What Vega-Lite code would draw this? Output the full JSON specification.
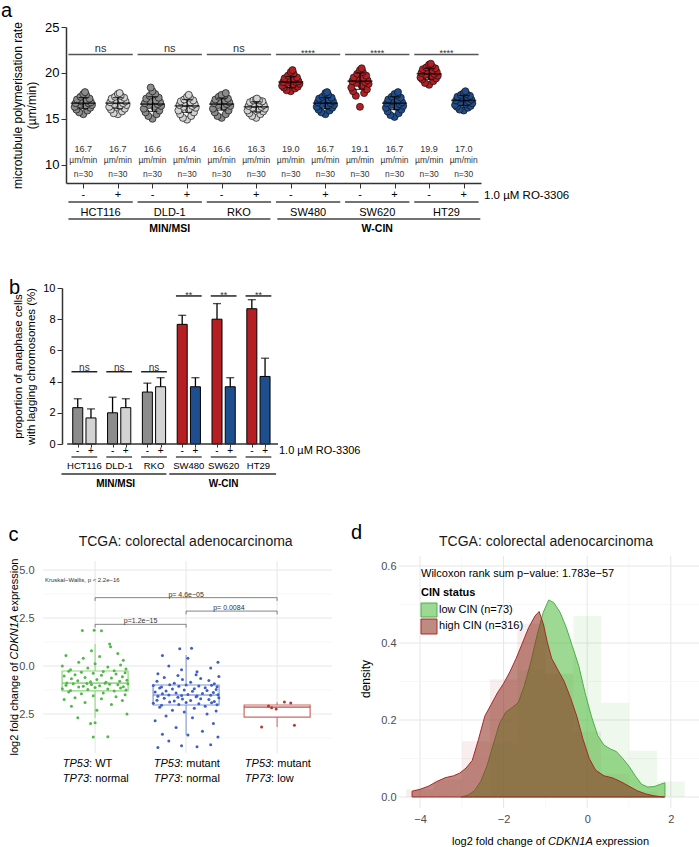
{
"$schema":"https://vega.github.io/schema/vega-lite/v6.json",
"padding":{"left":1,"top":1,"right":0,"bottom":0},
"bounds":"flush",
"spacing":105,
"config":{"font":"Liberation Sans","view":{"stroke":null},"axis":{"grid":false,"labelFlush":false,"labelOverlap":false}},
"datasets":{
"ap":[
{"i":1,"x":1,"y":15.5},{"i":1,"x":0.88,"y":15.7},{"i":1,"x":1.12,"y":15.9},{"i":1,"x":0.8,"y":16.0},{"i":1,"x":1.2,"y":16.2},{"i":1,"x":0.75,"y":16.3},{"i":1,"x":1.05,"y":16.4},{"i":1,"x":1.25,"y":16.5},{"i":1,"x":0.9,"y":16.6},{"i":1,"x":1.15,"y":16.7},{"i":1,"x":0.78,"y":16.7},{"i":1,"x":1.22,"y":16.8},{"i":1,"x":0.95,"y":16.9},{"i":1,"x":1.1,"y":17.0},{"i":1,"x":0.82,"y":17.1},{"i":1,"x":1.18,"y":17.2},{"i":1,"x":0.92,"y":17.4},{"i":1,"x":1.08,"y":17.6},{"i":1,"x":1,"y":17.7},{"i":1,"x":1.05,"y":17.9},
{"i":2,"x":2,"y":15.5},{"i":2,"x":1.88,"y":15.6},{"i":2,"x":2.12,"y":15.8},{"i":2,"x":1.8,"y":16.0},{"i":2,"x":2.2,"y":16.1},{"i":2,"x":1.75,"y":16.3},{"i":2,"x":2.05,"y":16.4},{"i":2,"x":2.25,"y":16.5},{"i":2,"x":1.9,"y":16.6},{"i":2,"x":2.15,"y":16.7},{"i":2,"x":1.78,"y":16.8},{"i":2,"x":2.22,"y":16.9},{"i":2,"x":1.95,"y":17.0},{"i":2,"x":2.1,"y":17.1},{"i":2,"x":1.82,"y":17.2},{"i":2,"x":2.18,"y":17.3},{"i":2,"x":1.92,"y":17.4},{"i":2,"x":2.08,"y":17.5},{"i":2,"x":2,"y":17.7},{"i":2,"x":2.05,"y":17.8},
{"i":3,"x":3,"y":15.0},{"i":3,"x":2.88,"y":15.3},{"i":3,"x":3.12,"y":15.5},{"i":3,"x":2.8,"y":15.7},{"i":3,"x":3.2,"y":15.9},{"i":3,"x":2.75,"y":16.1},{"i":3,"x":3.05,"y":16.3},{"i":3,"x":3.25,"y":16.4},{"i":3,"x":2.9,"y":16.5},{"i":3,"x":3.15,"y":16.6},{"i":3,"x":2.78,"y":16.7},{"i":3,"x":3.22,"y":16.8},{"i":3,"x":2.95,"y":16.9},{"i":3,"x":3.1,"y":17.0},{"i":3,"x":2.82,"y":17.2},{"i":3,"x":3.18,"y":17.3},{"i":3,"x":2.92,"y":17.5},{"i":3,"x":3.08,"y":17.7},{"i":3,"x":3,"y":18.0},{"i":3,"x":2.95,"y":18.4},
{"i":4,"x":4,"y":14.9},{"i":4,"x":3.88,"y":15.1},{"i":4,"x":4.12,"y":15.3},{"i":4,"x":3.8,"y":15.5},{"i":4,"x":4.2,"y":15.7},{"i":4,"x":3.75,"y":15.9},{"i":4,"x":4.05,"y":16.0},{"i":4,"x":4.25,"y":16.2},{"i":4,"x":3.9,"y":16.3},{"i":4,"x":4.15,"y":16.4},{"i":4,"x":3.78,"y":16.5},{"i":4,"x":4.22,"y":16.6},{"i":4,"x":3.95,"y":16.7},{"i":4,"x":4.1,"y":16.8},{"i":4,"x":3.82,"y":16.9},{"i":4,"x":4.18,"y":17.0},{"i":4,"x":3.92,"y":17.1},{"i":4,"x":4.08,"y":17.3},{"i":4,"x":4,"y":17.4},{"i":4,"x":4.05,"y":17.6},
{"i":5,"x":5,"y":15.1},{"i":5,"x":4.88,"y":15.3},{"i":5,"x":5.12,"y":15.5},{"i":5,"x":4.8,"y":15.7},{"i":5,"x":5.2,"y":15.9},{"i":5,"x":4.75,"y":16.1},{"i":5,"x":5.05,"y":16.3},{"i":5,"x":5.25,"y":16.4},{"i":5,"x":4.9,"y":16.5},{"i":5,"x":5.15,"y":16.6},{"i":5,"x":4.78,"y":16.7},{"i":5,"x":5.22,"y":16.8},{"i":5,"x":4.95,"y":16.9},{"i":5,"x":5.1,"y":17.0},{"i":5,"x":4.82,"y":17.1},{"i":5,"x":5.18,"y":17.2},{"i":5,"x":4.92,"y":17.4},{"i":5,"x":5.08,"y":17.5},{"i":5,"x":5,"y":17.6},{"i":5,"x":5.12,"y":17.8},
{"i":6,"x":6,"y":15.1},{"i":6,"x":5.88,"y":15.3},{"i":6,"x":6.12,"y":15.5},{"i":6,"x":5.8,"y":15.6},{"i":6,"x":6.2,"y":15.8},{"i":6,"x":5.75,"y":15.9},{"i":6,"x":6.05,"y":16.0},{"i":6,"x":6.25,"y":16.1},{"i":6,"x":5.9,"y":16.2},{"i":6,"x":6.15,"y":16.3},{"i":6,"x":5.78,"y":16.4},{"i":6,"x":6.22,"y":16.5},{"i":6,"x":5.95,"y":16.6},{"i":6,"x":6.1,"y":16.7},{"i":6,"x":5.82,"y":16.8},{"i":6,"x":6.18,"y":16.9},{"i":6,"x":5.92,"y":17.0},{"i":6,"x":6.08,"y":17.0},{"i":6,"x":6,"y":17.1},{"i":6,"x":6.02,"y":17.2},
{"i":7,"x":7,"y":18.0},{"i":7,"x":6.88,"y":18.1},{"i":7,"x":7.12,"y":18.3},{"i":7,"x":6.8,"y":18.4},{"i":7,"x":7.2,"y":18.5},{"i":7,"x":6.75,"y":18.6},{"i":7,"x":7.05,"y":18.7},{"i":7,"x":7.25,"y":18.8},{"i":7,"x":6.9,"y":18.9},{"i":7,"x":7.15,"y":19.0},{"i":7,"x":6.78,"y":19.0},{"i":7,"x":7.22,"y":19.1},{"i":7,"x":6.95,"y":19.2},{"i":7,"x":7.1,"y":19.3},{"i":7,"x":6.82,"y":19.4},{"i":7,"x":7.18,"y":19.5},{"i":7,"x":6.92,"y":19.7},{"i":7,"x":7.08,"y":19.9},{"i":7,"x":7,"y":20.1},{"i":7,"x":7.05,"y":20.3},
{"i":8,"x":8,"y":15.5},{"i":8,"x":7.88,"y":15.7},{"i":8,"x":8.12,"y":15.9},{"i":8,"x":7.8,"y":16.0},{"i":8,"x":8.2,"y":16.2},{"i":8,"x":7.75,"y":16.3},{"i":8,"x":8.05,"y":16.4},{"i":8,"x":8.25,"y":16.5},{"i":8,"x":7.9,"y":16.6},{"i":8,"x":8.15,"y":16.7},{"i":8,"x":7.78,"y":16.8},{"i":8,"x":8.22,"y":16.9},{"i":8,"x":7.95,"y":17.0},{"i":8,"x":8.1,"y":17.1},{"i":8,"x":7.82,"y":17.2},{"i":8,"x":8.18,"y":17.3},{"i":8,"x":7.92,"y":17.4},{"i":8,"x":8.08,"y":17.6},{"i":8,"x":8,"y":17.8},{"i":8,"x":8.05,"y":17.9},
{"i":9,"x":9,"y":16.3},{"i":9,"x":8.88,"y":17.5},{"i":9,"x":9.12,"y":17.8},{"i":9,"x":8.8,"y":18.0},{"i":9,"x":9.2,"y":18.2},{"i":9,"x":8.75,"y":18.4},{"i":9,"x":9.05,"y":18.6},{"i":9,"x":9.25,"y":18.8},{"i":9,"x":8.9,"y":18.9},{"i":9,"x":9.15,"y":19.0},{"i":9,"x":8.78,"y":19.1},{"i":9,"x":9.22,"y":19.2},{"i":9,"x":8.95,"y":19.3},{"i":9,"x":9.1,"y":19.4},{"i":9,"x":8.82,"y":19.5},{"i":9,"x":9.18,"y":19.7},{"i":9,"x":8.92,"y":19.9},{"i":9,"x":9.08,"y":20.1},{"i":9,"x":9,"y":20.3},{"i":9,"x":9.05,"y":20.5},
{"i":10,"x":10,"y":15.2},{"i":10,"x":9.88,"y":15.4},{"i":10,"x":10.12,"y":15.6},{"i":10,"x":9.8,"y":15.8},{"i":10,"x":10.2,"y":16.0},{"i":10,"x":9.75,"y":16.2},{"i":10,"x":10.05,"y":16.3},{"i":10,"x":10.25,"y":16.4},{"i":10,"x":9.9,"y":16.5},{"i":10,"x":10.15,"y":16.6},{"i":10,"x":9.78,"y":16.7},{"i":10,"x":10.22,"y":16.8},{"i":10,"x":9.95,"y":16.9},{"i":10,"x":10.1,"y":17.0},{"i":10,"x":9.82,"y":17.1},{"i":10,"x":10.18,"y":17.3},{"i":10,"x":9.92,"y":17.4},{"i":10,"x":10.08,"y":17.6},{"i":10,"x":10,"y":17.7},{"i":10,"x":10.1,"y":17.9},
{"i":11,"x":11,"y":18.7},{"i":11,"x":10.88,"y":18.9},{"i":11,"x":11.12,"y":19.1},{"i":11,"x":10.8,"y":19.3},{"i":11,"x":11.2,"y":19.4},{"i":11,"x":10.75,"y":19.5},{"i":11,"x":11.05,"y":19.6},{"i":11,"x":11.25,"y":19.7},{"i":11,"x":10.9,"y":19.8},{"i":11,"x":11.15,"y":19.9},{"i":11,"x":10.78,"y":20.0},{"i":11,"x":11.22,"y":20.1},{"i":11,"x":10.95,"y":20.2},{"i":11,"x":11.1,"y":20.3},{"i":11,"x":10.82,"y":20.4},{"i":11,"x":11.18,"y":20.5},{"i":11,"x":10.92,"y":20.6},{"i":11,"x":11.08,"y":20.7},{"i":11,"x":11,"y":20.9},{"i":11,"x":11.05,"y":21.0},
{"i":12,"x":12,"y":15.9},{"i":12,"x":11.88,"y":16.0},{"i":12,"x":12.12,"y":16.2},{"i":12,"x":11.8,"y":16.3},{"i":12,"x":12.2,"y":16.4},{"i":12,"x":11.75,"y":16.5},{"i":12,"x":12.05,"y":16.6},{"i":12,"x":12.25,"y":16.7},{"i":12,"x":11.9,"y":16.8},{"i":12,"x":12.15,"y":16.9},{"i":12,"x":11.78,"y":17.0},{"i":12,"x":12.22,"y":17.1},{"i":12,"x":11.95,"y":17.2},{"i":12,"x":12.1,"y":17.3},{"i":12,"x":11.82,"y":17.4},{"i":12,"x":12.18,"y":17.5},{"i":12,"x":11.92,"y":17.6},{"i":12,"x":12.08,"y":17.7},{"i":12,"x":12,"y":17.8},{"i":12,"x":12.05,"y":18.0}
],
"am":[
{"i":1,"m":16.7,"lo":16.1,"hi":17.3,"l":"16.7","sg":"-"},{"i":2,"m":16.7,"lo":16.1,"hi":17.3,"l":"16.7","sg":"+"},{"i":3,"m":16.6,"lo":15.8,"hi":17.4,"l":"16.6","sg":"-"},{"i":4,"m":16.4,"lo":15.7,"hi":17.1,"l":"16.4","sg":"+"},{"i":5,"m":16.6,"lo":15.95,"hi":17.25,"l":"16.6","sg":"-"},{"i":6,"m":16.3,"lo":15.75,"hi":16.85,"l":"16.3","sg":"+"},{"i":7,"m":19.0,"lo":18.4,"hi":19.6,"l":"19.0","sg":"-"},{"i":8,"m":16.7,"lo":16.1,"hi":17.3,"l":"16.7","sg":"+"},{"i":9,"m":19.1,"lo":18.2,"hi":20.0,"l":"19.1","sg":"-"},{"i":10,"m":16.7,"lo":16.0,"hi":17.4,"l":"16.7","sg":"+"},{"i":11,"m":19.9,"lo":19.3,"hi":20.5,"l":"19.9","sg":"-"},{"i":12,"m":17.0,"lo":16.45,"hi":17.55,"l":"17.0","sg":"+"}
],
"ac":[
{"c":1.5,"a":0.57,"b":2.43,"n":"HCT116","s":"ns"},{"c":3.5,"a":2.57,"b":4.43,"n":"DLD-1","s":"ns"},{"c":5.5,"a":4.57,"b":6.43,"n":"RKO","s":"ns"},{"c":7.5,"a":6.57,"b":8.43,"n":"SW480","s":"****"},{"c":9.5,"a":8.57,"b":10.43,"n":"SW620","s":"****"},{"c":11.5,"a":10.57,"b":12.43,"n":"HT29","s":"****"}
],
"ag":[{"c":3.5,"a":0.57,"b":6.41,"n":"MIN/MSI"},{"c":9.5,"a":6.61,"b":12.48,"n":"W-CIN"}],
"bb":[
{"x":-0.19,"v":2.33,"e":2.9,"i":1,"sg":"-"},{"x":0.19,"v":1.67,"e":2.25,"i":2,"sg":"+"},{"x":0.81,"v":2.0,"e":3.0,"i":3,"sg":"-"},{"x":1.19,"v":2.33,"e":2.9,"i":4,"sg":"+"},{"x":1.81,"v":3.33,"e":3.9,"i":5,"sg":"-"},{"x":2.19,"v":3.67,"e":4.25,"i":6,"sg":"+"},{"x":2.81,"v":7.67,"e":8.25,"i":7,"sg":"-"},{"x":3.19,"v":3.67,"e":4.25,"i":8,"sg":"+"},{"x":3.81,"v":8.0,"e":9.0,"i":9,"sg":"-"},{"x":4.19,"v":3.67,"e":4.25,"i":10,"sg":"+"},{"x":4.81,"v":8.67,"e":9.25,"i":11,"sg":"-"},{"x":5.19,"v":4.33,"e":5.5,"i":12,"sg":"+"}
],
"bc":[
{"c":0,"a":-0.37,"b":0.37,"n":"HCT116","s":"ns","h":4.63},{"c":1,"a":0.63,"b":1.37,"n":"DLD-1","s":"ns","h":4.63},{"c":2,"a":1.63,"b":2.37,"n":"RKO","s":"ns","h":4.63},{"c":3,"a":2.63,"b":3.37,"n":"SW480","s":"**","h":9.49},{"c":4,"a":3.63,"b":4.37,"n":"SW620","s":"**","h":9.49},{"c":5,"a":4.63,"b":5.37,"n":"HT29","s":"**","h":9.49}
],
"bg":[{"c":0.9,"a":-0.658,"b":2.356,"n":"MIN/MSI"},{"c":4,"a":2.438,"b":5.507,"n":"W-CIN"}],
"cx":[
{"g":1,"q1":-1.3,"q3":-0.26,"md":-0.89,"lo":-2.7,"hi":1.15},{"g":2,"q1":-2.03,"q3":-0.99,"md":-1.51,"lo":-3.6,"hi":0.57},{"g":3,"q1":-2.66,"q3":-2.03,"md":-2.14,"lo":-3.18,"hi":-1.88}
],
"cb":[
{"a":1,"b":2,"m":1.5,"h":2.17,"lo":2.0,"p":"p=1.2e−15"},{"a":2,"b":3,"m":2.47,"h":2.86,"lo":2.69,"p":"p= 0.0084"},{"a":1,"b":3,"m":2.0,"h":3.56,"lo":3.39,"p":"p= 4.6e−05"}
],
"cl":[{"g":1,"a":": WT","b":": normal"},{"g":2,"a":": mutant","b":": normal"},{"g":3,"a":": mutant","b":": low"}],
"cp":[
{"g":1,"x":0.98,"y":-3.7},{"g":1,"x":1.14,"y":-3.68},{"g":1,"x":0.95,"y":-3.0},{"g":1,"x":1.0,"y":-2.95},{"g":1,"x":0.81,"y":-2.7},{"g":1,"x":1.35,"y":-2.5},{"g":1,"x":1.02,"y":-2.3},{"g":1,"x":0.74,"y":-2.1},{"g":1,"x":1.18,"y":-2.0},{"g":1,"x":0.89,"y":-1.9},{"g":1,"x":1.3,"y":-1.8},{"g":1,"x":0.66,"y":-1.75},{"g":1,"x":1.07,"y":-1.7},{"g":1,"x":0.78,"y":-1.65},{"g":1,"x":1.23,"y":-1.6},{"g":1,"x":0.98,"y":-1.55},{"g":1,"x":1.33,"y":-1.5},{"g":1,"x":0.85,"y":-1.45},{"g":1,"x":1.09,"y":-1.4},{"g":1,"x":0.71,"y":-1.35},
{"g":1,"x":1.21,"y":-1.3},{"g":1,"x":0.73,"y":-1.28},{"g":1,"x":1.34,"y":-1.25},{"g":1,"x":0.92,"y":-1.22},{"g":1,"x":1.14,"y":-1.2},{"g":1,"x":0.64,"y":-1.18},{"g":1,"x":1.28,"y":-1.15},{"g":1,"x":1.0,"y":-1.12},{"g":1,"x":0.82,"y":-1.1},{"g":1,"x":1.31,"y":-1.08},{"g":1,"x":0.87,"y":-1.05},{"g":1,"x":1.05,"y":-1.03},{"g":1,"x":0.68,"y":-1.0},{"g":1,"x":1.25,"y":-0.98},{"g":1,"x":0.96,"y":-0.96},{"g":1,"x":1.16,"y":-0.95},{"g":1,"x":0.76,"y":-0.93},{"g":1,"x":1.36,"y":-0.92},{"g":1,"x":0.91,"y":-0.91},{"g":1,"x":1.11,"y":-0.9},
{"g":1,"x":0.69,"y":-0.88},{"g":1,"x":1.12,"y":-0.85},{"g":1,"x":0.95,"y":-0.82},{"g":1,"x":1.27,"y":-0.8},{"g":1,"x":0.81,"y":-0.77},{"g":1,"x":1.35,"y":-0.74},{"g":1,"x":1.02,"y":-0.7},{"g":1,"x":0.74,"y":-0.67},{"g":1,"x":1.18,"y":-0.63},{"g":1,"x":0.89,"y":-0.6},{"g":1,"x":1.3,"y":-0.56},{"g":1,"x":0.66,"y":-0.52},{"g":1,"x":1.07,"y":-0.48},{"g":1,"x":0.78,"y":-0.45},{"g":1,"x":1.23,"y":-0.42},{"g":1,"x":0.98,"y":-0.38},{"g":1,"x":1.33,"y":-0.35},{"g":1,"x":0.85,"y":-0.32},{"g":1,"x":1.09,"y":-0.29},{"g":1,"x":0.71,"y":-0.27},
{"g":1,"x":1.21,"y":-0.25},{"g":1,"x":0.73,"y":-0.2},{"g":1,"x":1.34,"y":-0.15},{"g":1,"x":0.92,"y":-0.1},{"g":1,"x":1.14,"y":-0.05},{"g":1,"x":0.64,"y":0.0},{"g":1,"x":1.28,"y":0.05},{"g":1,"x":1.0,"y":0.12},{"g":1,"x":0.82,"y":0.2},{"g":1,"x":1.31,"y":0.3},{"g":1,"x":0.87,"y":0.4},{"g":1,"x":1.05,"y":0.5},{"g":1,"x":0.68,"y":0.55},{"g":1,"x":1.25,"y":0.65},{"g":1,"x":0.96,"y":0.8},{"g":1,"x":1.17,"y":1.0},{"g":1,"x":1.16,"y":1.15},{"g":1,"x":0.86,"y":1.85},{"g":1,"x":0.99,"y":1.86},{"g":1,"x":1.07,"y":1.84},
{"g":2,"x":1.69,"y":-4.25},{"g":2,"x":2.12,"y":-4.2},{"g":2,"x":1.95,"y":-4.15},{"g":2,"x":2.27,"y":-4.1},{"g":2,"x":1.81,"y":-3.9},{"g":2,"x":2.35,"y":-3.7},{"g":2,"x":2.02,"y":-3.6},{"g":2,"x":1.74,"y":-3.55},{"g":2,"x":2.18,"y":-3.4},{"g":2,"x":1.89,"y":-3.2},{"g":2,"x":2.3,"y":-3.0},{"g":2,"x":1.66,"y":-2.85},{"g":2,"x":2.07,"y":-2.7},{"g":2,"x":1.78,"y":-2.6},{"g":2,"x":2.23,"y":-2.5},{"g":2,"x":1.98,"y":-2.4},{"g":2,"x":2.33,"y":-2.35},{"g":2,"x":1.85,"y":-2.3},{"g":2,"x":2.09,"y":-2.2},{"g":2,"x":1.71,"y":-2.15},{"g":2,"x":2.21,"y":-2.1},{"g":2,"x":1.73,"y":-2.05},
{"g":2,"x":2.34,"y":-2.02},{"g":2,"x":1.92,"y":-2.0},{"g":2,"x":2.14,"y":-1.97},{"g":2,"x":1.64,"y":-1.94},{"g":2,"x":2.28,"y":-1.92},{"g":2,"x":2.0,"y":-1.9},{"g":2,"x":1.82,"y":-1.87},{"g":2,"x":2.31,"y":-1.85},{"g":2,"x":1.87,"y":-1.82},{"g":2,"x":2.05,"y":-1.8},{"g":2,"x":1.68,"y":-1.78},{"g":2,"x":2.25,"y":-1.75},{"g":2,"x":1.96,"y":-1.72},{"g":2,"x":2.16,"y":-1.7},{"g":2,"x":1.76,"y":-1.68},{"g":2,"x":2.36,"y":-1.65},{"g":2,"x":1.91,"y":-1.63},{"g":2,"x":2.11,"y":-1.6},{"g":2,"x":1.69,"y":-1.58},{"g":2,"x":2.12,"y":-1.56},{"g":2,"x":1.95,"y":-1.54},{"g":2,"x":2.27,"y":-1.52},{"g":2,"x":1.81,"y":-1.51},
{"g":2,"x":2.35,"y":-1.5},{"g":2,"x":2.02,"y":-1.48},{"g":2,"x":1.74,"y":-1.45},{"g":2,"x":2.18,"y":-1.43},{"g":2,"x":1.89,"y":-1.4},{"g":2,"x":2.3,"y":-1.38},{"g":2,"x":1.66,"y":-1.35},{"g":2,"x":2.07,"y":-1.32},{"g":2,"x":1.78,"y":-1.3},{"g":2,"x":2.23,"y":-1.28},{"g":2,"x":1.98,"y":-1.25},{"g":2,"x":2.33,"y":-1.22},{"g":2,"x":1.85,"y":-1.2},{"g":2,"x":2.09,"y":-1.18},{"g":2,"x":1.71,"y":-1.15},{"g":2,"x":2.21,"y":-1.13},{"g":2,"x":1.73,"y":-1.1},{"g":2,"x":2.34,"y":-1.08},{"g":2,"x":1.92,"y":-1.06},{"g":2,"x":2.14,"y":-1.04},{"g":2,"x":1.64,"y":-1.02},{"g":2,"x":2.28,"y":-1.0},{"g":2,"x":2.0,"y":-0.99},
{"g":2,"x":1.82,"y":-0.97},{"g":2,"x":2.31,"y":-0.93},{"g":2,"x":1.87,"y":-0.9},{"g":2,"x":2.05,"y":-0.85},{"g":2,"x":1.68,"y":-0.8},{"g":2,"x":2.25,"y":-0.75},{"g":2,"x":1.96,"y":-0.7},{"g":2,"x":2.16,"y":-0.65},{"g":2,"x":1.76,"y":-0.6},{"g":2,"x":2.36,"y":-0.55},{"g":2,"x":1.91,"y":-0.5},{"g":2,"x":2.11,"y":-0.45},{"g":2,"x":1.69,"y":-0.4},{"g":2,"x":2.12,"y":-0.3},{"g":2,"x":1.95,"y":-0.2},{"g":2,"x":2.27,"y":-0.1},{"g":2,"x":1.81,"y":0.0},{"g":2,"x":2.35,"y":0.2},{"g":2,"x":2.02,"y":0.4},{"g":2,"x":1.74,"y":0.55},{"g":2,"x":1.93,"y":0.9},{"g":2,"x":2.06,"y":0.92},
{"g":3,"x":2.905,"y":-2.08},{"g":3,"x":2.94,"y":-2.17},{"g":3,"x":2.99,"y":-2.24},{"g":3,"x":3.08,"y":-1.88},{"g":3,"x":3.15,"y":-1.93},{"g":3,"x":2.83,"y":-3.18},{"g":3,"x":3.19,"y":-3.08}
],
"dh":[
{"s":"H","a":-4.33,"b":-3.67,"h":0.02},{"s":"H","a":-3.67,"b":-3.0,"h":0.045},{"s":"H","a":-3.0,"b":-2.33,"h":0.145},{"s":"H","a":-2.33,"b":-1.67,"h":0.305},{"s":"H","a":-1.67,"b":-1.0,"h":0.45},{"s":"H","a":-1.0,"b":-0.33,"h":0.32},{"s":"H","a":-0.33,"b":0.33,"h":0.17},{"s":"H","a":0.33,"b":1.0,"h":0.06},{"s":"H","a":1.0,"b":1.67,"h":0.015},
{"s":"L","a":-2.33,"b":-1.67,"h":0.14},{"s":"L","a":-1.67,"b":-1.0,"h":0.33},{"s":"L","a":-1.0,"b":-0.33,"h":0.32},{"s":"L","a":-0.33,"b":0.33,"h":0.47},{"s":"L","a":0.33,"b":1.0,"h":0.245},{"s":"L","a":1.0,"b":1.67,"h":0.12},{"s":"L","a":1.67,"b":2.33,"h":0.04}
],
"dd":[
{"s":"L","x":-3.02,"y":0.0},{"s":"L","x":-2.85,"y":0.005},{"s":"L","x":-2.7,"y":0.016},{"s":"L","x":-2.55,"y":0.04},{"s":"L","x":-2.4,"y":0.08},{"s":"L","x":-2.25,"y":0.135},{"s":"L","x":-2.1,"y":0.19},{"s":"L","x":-1.95,"y":0.22},{"s":"L","x":-1.8,"y":0.232},{"s":"L","x":-1.65,"y":0.245},{"s":"L","x":-1.5,"y":0.29},{"s":"L","x":-1.35,"y":0.35},{"s":"L","x":-1.2,"y":0.42},{"s":"L","x":-1.05,"y":0.48},{"s":"L","x":-0.92,"y":0.512},{"s":"L","x":-0.8,"y":0.505},{"s":"L","x":-0.65,"y":0.48},{"s":"L","x":-0.5,"y":0.44},{"s":"L","x":-0.35,"y":0.39},{"s":"L","x":-0.2,"y":0.34},{"s":"L","x":-0.05,"y":0.27},{"s":"L","x":0.1,"y":0.21},{"s":"L","x":0.25,"y":0.16},{"s":"L","x":0.4,"y":0.135},{"s":"L","x":0.55,"y":0.125},{"s":"L","x":0.7,"y":0.118},{"s":"L","x":0.85,"y":0.1},{"s":"L","x":1.0,"y":0.08},{"s":"L","x":1.15,"y":0.055},{"s":"L","x":1.3,"y":0.033},{"s":"L","x":1.45,"y":0.026},{"s":"L","x":1.6,"y":0.027},{"s":"L","x":1.75,"y":0.033},{"s":"L","x":1.86,"y":0.037},
{"s":"H","x":-4.19,"y":0.015},{"s":"H","x":-4.0,"y":0.02},{"s":"H","x":-3.8,"y":0.028},{"s":"H","x":-3.6,"y":0.04},{"s":"H","x":-3.4,"y":0.05},{"s":"H","x":-3.2,"y":0.055},{"s":"H","x":-3.05,"y":0.062},{"s":"H","x":-2.9,"y":0.075},{"s":"H","x":-2.75,"y":0.095},{"s":"H","x":-2.6,"y":0.15},{"s":"H","x":-2.45,"y":0.21},{"s":"H","x":-2.3,"y":0.24},{"s":"H","x":-2.15,"y":0.27},{"s":"H","x":-2.0,"y":0.295},{"s":"H","x":-1.85,"y":0.325},{"s":"H","x":-1.7,"y":0.36},{"s":"H","x":-1.55,"y":0.4},{"s":"H","x":-1.4,"y":0.44},{"s":"H","x":-1.25,"y":0.47},{"s":"H","x":-1.15,"y":0.482},{"s":"H","x":-1.05,"y":0.45},{"s":"H","x":-0.95,"y":0.4},{"s":"H","x":-0.85,"y":0.36},{"s":"H","x":-0.7,"y":0.33},{"s":"H","x":-0.55,"y":0.3},{"s":"H","x":-0.4,"y":0.258},{"s":"H","x":-0.25,"y":0.21},{"s":"H","x":-0.1,"y":0.15},{"s":"H","x":0.05,"y":0.1},{"s":"H","x":0.2,"y":0.07},{"s":"H","x":0.4,"y":0.055},{"s":"H","x":0.6,"y":0.05},{"s":"H","x":0.8,"y":0.04},{"s":"H","x":1.0,"y":0.028},{"s":"H","x":1.2,"y":0.016},{"s":"H","x":1.4,"y":0.008},{"s":"H","x":1.6,"y":0.003},{"s":"H","x":1.85,"y":0.0}
]
},
"vconcat":[
{
"width":415,"height":156,
"layer":[
{"data":{"name":"ap"},"mark":{"type":"circle","size":50,"opacity":1,"stroke":"#111","strokeWidth":0.7},
 "encoding":{
  "x":{"field":"x","type":"quantitative","scale":{"domain":[0.5,12.5],"nice":false,"zero":false},"axis":{"values":[1,2,3,4,5,6,7,8,9,10,11,12],"tickCount":30,"labels":false,"title":null,"domainColor":"#333","domainWidth":1.5,"tickColor":"#333","tickSize":5}},
  "y":{"field":"y","type":"quantitative","scale":{"domain":[8,25],"nice":false,"zero":false},"axis":{"values":[10,15,20,25],"tickCount":10,"format":"d","title":["microtubule polymerisation rate","(µm/min)"],"titleFontSize":12,"titleFontWeight":"normal","titleColor":"black","titlePadding":6,"labelFontSize":13,"labelColor":"black","domainColor":"#333","domainWidth":1.5,"tickColor":"#333","tickSize":5,"labelPadding":2}},
  "color":{"field":"i","type":"ordinal","scale":{"domain":[1,2,3,4,5,6,7,8,9,10,11,12],"range":["#8c8c8c","#d3d3d3","#8c8c8c","#d3d3d3","#8c8c8c","#d3d3d3","#b51f24","#1f4e8f","#b51f24","#1f4e8f","#b51f24","#1f4e8f"]},"legend":null}}},
{"data":{"name":"am"},"mark":{"type":"rule","color":"black","strokeWidth":1},"encoding":{"x":{"field":"i","type":"quantitative"},"y":{"field":"lo","type":"quantitative"},"y2":{"field":"hi"}}},
{"data":{"name":"am"},"mark":{"type":"tick","orient":"horizontal","size":10,"thickness":1.2,"color":"black"},"encoding":{"x":{"field":"i","type":"quantitative"},"y":{"field":"hi","type":"quantitative"}}},
{"data":{"name":"am"},"mark":{"type":"tick","orient":"horizontal","size":10,"thickness":1.2,"color":"black"},"encoding":{"x":{"field":"i","type":"quantitative"},"y":{"field":"lo","type":"quantitative"}}},
{"data":{"name":"am"},"mark":{"type":"tick","orient":"horizontal","size":25,"thickness":1.6,"color":"black"},"encoding":{"x":{"field":"i","type":"quantitative"},"y":{"field":"m","type":"quantitative"}}},
{"data":{"name":"am"},"mark":{"type":"text","fontSize":9,"color":"#333","baseline":"middle"},"encoding":{"x":{"field":"i","type":"quantitative"},"y":{"datum":11.68,"type":"quantitative"},"text":{"field":"l"}}},
{"data":{"name":"am"},"mark":{"type":"text","fontSize":8.5,"color":"#333","baseline":"middle"},"encoding":{"x":{"field":"i","type":"quantitative"},"y":{"datum":10.53,"type":"quantitative"},"text":{"value":"µm/min"}}},
{"data":{"name":"am"},"mark":{"type":"text","fontSize":8.5,"color":"#333","baseline":"middle"},"encoding":{"x":{"field":"i","type":"quantitative"},"y":{"datum":8.98,"type":"quantitative"},"text":{"value":"n=30"}}},
{"data":{"name":"am"},"mark":{"type":"text","fontSize":11,"color":"black","baseline":"middle"},"encoding":{"x":{"field":"i","type":"quantitative"},"y":{"datum":6.66,"type":"quantitative"},"text":{"field":"sg"}}},
{"data":{"name":"ac"},"mark":{"type":"rule","color":"#555","strokeWidth":1.5},"encoding":{"x":{"field":"a","type":"quantitative"},"x2":{"field":"b"},"y":{"datum":22.0,"type":"quantitative"}}},
{"data":{"name":"ac"},"transform":[{"filter":"datum.s == 'ns'"}],"mark":{"type":"text","fontSize":11,"color":"#333","baseline":"middle"},"encoding":{"x":{"field":"c","type":"quantitative"},"y":{"datum":22.62,"type":"quantitative"},"text":{"field":"s"}}},
{"data":{"name":"ac"},"transform":[{"filter":"datum.s != 'ns'"}],"mark":{"type":"text","fontSize":9,"color":"#333","baseline":"middle"},"encoding":{"x":{"field":"c","type":"quantitative"},"y":{"datum":22.12,"type":"quantitative"},"text":{"field":"s"}}},
{"data":{"name":"ac"},"mark":{"type":"rule","color":"#444","strokeWidth":1.5},"encoding":{"x":{"field":"a","type":"quantitative"},"x2":{"field":"b"},"y":{"datum":5.935,"type":"quantitative"}}},
{"data":{"name":"ac"},"mark":{"type":"text","fontSize":11,"color":"black","baseline":"middle"},"encoding":{"x":{"field":"c","type":"quantitative"},"y":{"datum":4.77,"type":"quantitative"},"text":{"field":"n"}}},
{"data":{"name":"ag"},"mark":{"type":"rule","color":"#444","strokeWidth":1.5},"encoding":{"x":{"field":"a","type":"quantitative"},"x2":{"field":"b"},"y":{"datum":4.087,"type":"quantitative"}}},
{"data":{"name":"ag"},"mark":{"type":"text","fontSize":10.5,"fontWeight":"bold","color":"black","baseline":"middle"},"encoding":{"x":{"field":"c","type":"quantitative"},"y":{"datum":3.02,"type":"quantitative"},"text":{"field":"n"}}},
{"data":{"values":[{}]},"mark":{"type":"text","fontSize":11.5,"color":"black","align":"left","baseline":"middle"},"encoding":{"x":{"datum":12.587,"type":"quantitative"},"y":{"datum":6.63,"type":"quantitative"},"text":{"value":"1.0 µM RO-3306"}}},
{"data":{"values":[{}]},"mark":{"type":"text","fontSize":20,"color":"black","align":"left","baseline":"top"},"encoding":{"x":{"datum":-1.3795,"type":"quantitative"},"y":{"datum":27.826,"type":"quantitative"},"text":{"value":"a"}}}
]
},
{
"width":217,"height":156,
"layer":[
{"data":{"name":"bb"},"mark":{"type":"bar","width":10,"stroke":"black","strokeWidth":1,"orient":"vertical"},
 "encoding":{
  "x":{"field":"x","type":"quantitative","scale":{"domain":[-0.3836,5.5616],"nice":false,"zero":false},"axis":{"values":[-0.19,0.19,0.81,1.19,1.81,2.19,2.81,3.19,3.81,4.19,4.81,5.19],"tickCount":30,"labels":false,"title":null,"domain":false,"tickColor":"#333","tickSize":3}},
  "y":{"field":"v","type":"quantitative","stack":null,"scale":{"domain":[0,10],"nice":false,"zero":false},"axis":{"values":[0,2,4,6,8,10],"tickCount":20,"format":"d","offset":4,"title":["proportion of anaphase cells","with lagging chromosomes (%)"],"titleFontSize":11.5,"titleFontWeight":"normal","titleColor":"black","titlePadding":6,"labelFontSize":11,"labelColor":"black","domainColor":"#333","domainWidth":1.5,"tickColor":"#333","tickSize":5,"labelPadding":2}},
  "color":{"field":"i","type":"ordinal","scale":{"domain":[1,2,3,4,5,6,7,8,9,10,11,12],"range":["#8f8f8f","#cfcfcf","#8f8f8f","#cfcfcf","#8f8f8f","#cfcfcf","#a81d22","#1b4c87","#a81d22","#1b4c87","#a81d22","#1b4c87"]},"legend":null}}},
{"data":{"name":"bb"},"mark":{"type":"rule","color":"black","strokeWidth":1.3},"encoding":{"x":{"field":"x","type":"quantitative"},"y":{"field":"v","type":"quantitative"},"y2":{"field":"e"}}},
{"data":{"name":"bb"},"mark":{"type":"tick","orient":"horizontal","size":8,"thickness":1.3,"color":"black"},"encoding":{"x":{"field":"x","type":"quantitative"},"y":{"field":"e","type":"quantitative"}}},
{"data":{"name":"bb"},"mark":{"type":"text","fontSize":10,"color":"black","baseline":"middle"},"encoding":{"x":{"field":"x","type":"quantitative"},"y":{"datum":-0.436,"type":"quantitative"},"text":{"field":"sg"}}},
{"data":{"values":[{}]},"mark":{"type":"rule","color":"#333","strokeWidth":1.5},"encoding":{"x":{"datum":-0.4932,"type":"quantitative"},"x2":{"datum":5.5616},"y":{"datum":0,"type":"quantitative"}}},
{"data":{"name":"bc"},"mark":{"type":"rule","color":"black","strokeWidth":1.3},"encoding":{"x":{"field":"a","type":"quantitative"},"x2":{"field":"b"},"y":{"field":"h","type":"quantitative"}}},
{"data":{"name":"bc"},"transform":[{"filter":"datum.s == 'ns'"}],"mark":{"type":"text","fontSize":10,"color":"#333","baseline":"middle"},"encoding":{"x":{"field":"c","type":"quantitative"},"y":{"datum":4.9,"type":"quantitative"},"text":{"field":"s"}}},
{"data":{"name":"bc"},"transform":[{"filter":"datum.s != 'ns'"}],"mark":{"type":"text","fontSize":9,"color":"#333","baseline":"middle"},"encoding":{"x":{"field":"c","type":"quantitative"},"y":{"datum":9.54,"type":"quantitative"},"text":{"field":"s"}}},
{"data":{"name":"bc"},"mark":{"type":"rule","color":"#333","strokeWidth":1.3},"encoding":{"x":{"field":"a","type":"quantitative"},"x2":{"field":"b"},"y":{"datum":-0.833,"type":"quantitative"}}},
{"data":{"name":"bc"},"mark":{"type":"text","fontSize":9.5,"color":"black","baseline":"middle"},"encoding":{"x":{"field":"c","type":"quantitative"},"y":{"datum":-1.44,"type":"quantitative"},"text":{"field":"n"}}},
{"data":{"name":"bg"},"mark":{"type":"rule","color":"#333","strokeWidth":1.3},"encoding":{"x":{"field":"a","type":"quantitative"},"x2":{"field":"b"},"y":{"datum":-1.923,"type":"quantitative"}}},
{"data":{"name":"bg"},"mark":{"type":"text","fontSize":10,"fontWeight":"bold","color":"black","baseline":"middle"},"encoding":{"x":{"field":"c","type":"quantitative"},"y":{"datum":-2.54,"type":"quantitative"},"text":{"field":"n"}}},
{"data":{"values":[{}]},"mark":{"type":"text","fontSize":11,"color":"black","align":"left","baseline":"middle"},"encoding":{"x":{"datum":5.589,"type":"quantitative"},"y":{"datum":-0.43,"type":"quantitative"},"text":{"value":"1.0 µM RO-3306"}}},
{"data":{"values":[{}]},"mark":{"type":"text","fontSize":20,"color":"black","align":"left","baseline":"top"},"encoding":{"x":{"datum":-2.1644,"type":"quantitative"},"y":{"datum":10.628,"type":"quantitative"},"text":{"value":"b"}}}
]
},
{
"hconcat":[
{
"width":271,"height":204,
"resolve":{"scale":{"color":"independent","stroke":"independent"}},
"layer":[
{"data":{"values":[{"y":-2.5},{"y":0},{"y":2.5},{"y":5}]},"mark":{"type":"rule","color":"#e6e6e6","strokeWidth":1},
 "encoding":{"x":{"datum":0.4286,"type":"quantitative","scale":{"domain":[0.7354,3.603],"nice":false,"zero":false},"axis":null},"x2":{"datum":3.603},
  "y":{"field":"y","type":"quantitative","scale":{"domain":[-4.531,6.094],"nice":false,"zero":false},"axis":{"values":[-2.5,0,2.5,5],"tickCount":20,"labelExpr":"datum.value < 0 ? '-' + format(-datum.value, '.1f') : format(datum.value, '.1f')","offset":30,"labelPadding":2,"domain":false,"ticks":false,"title":null,"labelColor":"#4d4d4d","labelFontSize":11}}}},
{"data":{"values":[{"y":-3.75},{"y":-1.25},{"y":1.25},{"y":3.75}]},"mark":{"type":"rule","color":"#f1f1f1","strokeWidth":0.6},"encoding":{"x":{"datum":0.4286,"type":"quantitative","axis":null},"x2":{"datum":3.603},"y":{"field":"y","type":"quantitative"}}},
{"data":{"values":[{"x":1},{"x":2},{"x":3}]},"mark":{"type":"rule","color":"#e6e6e6","strokeWidth":1},"encoding":{"x":{"field":"x","type":"quantitative","axis":null},"y":{"datum":-4.531,"type":"quantitative"},"y2":{"datum":5.47}}},
{"data":{"name":"cx"},"mark":{"type":"rule","strokeWidth":1},"encoding":{"x":{"field":"g","type":"quantitative","axis":null},"y":{"field":"lo","type":"quantitative"},"y2":{"field":"hi"},"color":{"field":"g","type":"nominal","scale":{"domain":[1,2,3],"range":["#8ad67c","#7f95d8","#c96a62"]},"legend":null}}},
{"data":{"name":"cx"},"mark":{"type":"bar","width":66,"fill":"white","strokeWidth":1.2,"orient":"vertical"},"encoding":{"x":{"field":"g","type":"quantitative","axis":null},"y":{"field":"q1","type":"quantitative"},"y2":{"field":"q3"},"stroke":{"field":"g","type":"nominal","scale":{"domain":[1,2,3],"range":["#8ad67c","#7f95d8","#c96a62"]},"legend":null}}},
{"data":{"name":"cx"},"mark":{"type":"tick","orient":"horizontal","size":66,"thickness":1.6},"encoding":{"x":{"field":"g","type":"quantitative","axis":null},"y":{"field":"md","type":"quantitative"},"color":{"field":"g","type":"nominal","scale":{"domain":[1,2,3],"range":["#6fc860","#627ccc","#b9463e"]},"legend":null}}},
{"data":{"name":"cp"},"mark":{"type":"circle","size":9,"opacity":1},"encoding":{"x":{"field":"x","type":"quantitative","axis":null},"y":{"field":"y","type":"quantitative"},"color":{"field":"g","type":"nominal","scale":{"domain":[1,2,3],"range":["#52b848","#3f5fc8","#b03a2e"]},"legend":null}}},
{"data":{"name":"cb"},"mark":{"type":"rule","color":"#666","strokeWidth":0.8},"encoding":{"x":{"field":"a","type":"quantitative","axis":null},"x2":{"field":"b"},"y":{"field":"h","type":"quantitative"}}},
{"data":{"name":"cb"},"mark":{"type":"rule","color":"#666","strokeWidth":0.8},"encoding":{"x":{"field":"a","type":"quantitative","axis":null},"y":{"field":"lo","type":"quantitative"},"y2":{"field":"h"}}},
{"data":{"name":"cb"},"mark":{"type":"rule","color":"#666","strokeWidth":0.8},"encoding":{"x":{"field":"b","type":"quantitative","axis":null},"y":{"field":"lo","type":"quantitative"},"y2":{"field":"h"}}},
{"data":{"name":"cb"},"mark":{"type":"text","fontSize":7,"color":"#333","baseline":"bottom"},"encoding":{"x":{"field":"m","type":"quantitative","axis":null},"y":{"field":"h","type":"quantitative"},"text":{"field":"p"}}},
{"data":{"values":[{}]},"mark":{"type":"text","fontSize":6,"color":"#333","align":"left","baseline":"middle"},"encoding":{"x":{"datum":0.45,"type":"quantitative","axis":null},"y":{"datum":4.48,"type":"quantitative"},"text":{"value":"Kruskal−Wallis, p < 2.2e−16"}}},
{"data":{"name":"cl"},"mark":{"type":"text","fontSize":11,"fontStyle":"italic","color":"black","align":"right","baseline":"middle","dx":-6},"encoding":{"x":{"field":"g","type":"quantitative","axis":null},"y":{"datum":-5.09,"type":"quantitative"},"text":{"value":"TP53"}}},
{"data":{"name":"cl"},"mark":{"type":"text","fontSize":11,"color":"black","align":"left","baseline":"middle","dx":-6},"encoding":{"x":{"field":"g","type":"quantitative","axis":null},"y":{"datum":-5.09,"type":"quantitative"},"text":{"field":"a"}}},
{"data":{"name":"cl"},"mark":{"type":"text","fontSize":11,"fontStyle":"italic","color":"black","align":"right","baseline":"middle","dx":-6},"encoding":{"x":{"field":"g","type":"quantitative","axis":null},"y":{"datum":-5.87,"type":"quantitative"},"text":{"value":"TP73"}}},
{"data":{"name":"cl"},"mark":{"type":"text","fontSize":11,"color":"black","align":"left","baseline":"middle","dx":-6},"encoding":{"x":{"field":"g","type":"quantitative","axis":null},"y":{"datum":-5.87,"type":"quantitative"},"text":{"field":"b"}}},
{"data":{"values":[{}]},"mark":{"type":"text","fontSize":14,"color":"#1a1a1a","align":"center","baseline":"alphabetic"},"encoding":{"x":{"datum":1.995,"type":"quantitative","axis":null},"y":{"datum":6.25,"type":"quantitative"},"text":{"value":"TCGA: colorectal adenocarcinoma"}}},
{"data":{"values":[{}]},"mark":{"type":"text","fontSize":11,"color":"black","align":"left","baseline":"middle","angle":270},"encoding":{"x":{"datum":0.1217,"type":"quantitative","axis":null},"y":{"datum":-4.661,"type":"quantitative"},"text":{"value":"log2 fold change of"}}},
{"data":{"values":[{}]},"mark":{"type":"text","fontSize":11,"fontStyle":"italic","color":"black","align":"left","baseline":"middle","angle":270},"encoding":{"x":{"datum":0.1217,"type":"quantitative","axis":null},"y":{"datum":0.344,"type":"quantitative"},"text":{"value":"CDKN1A"}}},
{"data":{"values":[{}]},"mark":{"type":"text","fontSize":11,"color":"black","align":"left","baseline":"middle","angle":270},"encoding":{"x":{"datum":0.1217,"type":"quantitative","axis":null},"y":{"datum":2.828,"type":"quantitative"},"text":{"value":"expression"}}},
{"data":{"values":[{}]},"mark":{"type":"text","fontSize":20,"color":"black","align":"left","baseline":"top"},"encoding":{"x":{"datum":0.0476,"type":"quantitative","axis":null},"y":{"datum":7.333,"type":"quantitative"},"text":{"value":"c"}}}
]
},
{
"width":300,"height":259,
"layer":[
{"data":{"values":[{"x":-4},{"x":-2},{"x":0},{"x":2}]},"mark":{"type":"rule","color":"#e6e6e6","strokeWidth":1},
 "encoding":{"x":{"field":"x","type":"quantitative","scale":{"domain":[-4.5024,2.6746],"nice":false,"zero":false},"axis":{"values":[-4,-2,0,2],"tickCount":20,"format":"d","domain":false,"ticks":false,"title":null,"labelColor":"#4d4d4d","labelFontSize":11,"labelPadding":5}},
  "y":{"datum":-0.02857,"type":"quantitative","scale":{"domain":[-0.02857,0.6442],"nice":false,"zero":false},"axis":{"values":[0,0.2,0.4,0.6],"tickCount":20,"format":".1f","domain":false,"ticks":false,"title":"density","titleFontSize":12,"titleFontWeight":"normal","titleColor":"black","titlePadding":8,"labelColor":"#4d4d4d","labelFontSize":11,"labelPadding":3}},
  "y2":{"datum":0.626}}},
{"data":{"values":[{"x":-3},{"x":-1},{"x":1}]},"mark":{"type":"rule","color":"#f1f1f1","strokeWidth":0.6},"encoding":{"x":{"field":"x","type":"quantitative"},"y":{"datum":-0.02857,"type":"quantitative"},"y2":{"datum":0.626}}},
{"data":{"values":[{"y":0},{"y":0.2},{"y":0.4},{"y":0.6}]},"mark":{"type":"rule","color":"#e6e6e6","strokeWidth":1},"encoding":{"x":{"datum":-4.5024,"type":"quantitative"},"x2":{"datum":2.6746},"y":{"field":"y","type":"quantitative"}}},
{"data":{"values":[{"y":0.1},{"y":0.3},{"y":0.5}]},"mark":{"type":"rule","color":"#f1f1f1","strokeWidth":0.6},"encoding":{"x":{"datum":-4.5024,"type":"quantitative"},"x2":{"datum":2.6746},"y":{"field":"y","type":"quantitative"}}},
{"data":{"name":"dh"},"transform":[{"filter":"datum.s == 'H'"}],"mark":{"type":"rect","fill":"#a52a2a","fillOpacity":0.08},"encoding":{"x":{"field":"a","type":"quantitative"},"x2":{"field":"b"},"y":{"field":"h","type":"quantitative"},"y2":{"datum":0}}},
{"data":{"name":"dh"},"transform":[{"filter":"datum.s == 'L'"}],"mark":{"type":"rect","fill":"#5cbf4a","fillOpacity":0.1},"encoding":{"x":{"field":"a","type":"quantitative"},"x2":{"field":"b"},"y":{"field":"h","type":"quantitative"},"y2":{"datum":0}}},
{"data":{"name":"dd"},"transform":[{"filter":"datum.s == 'L'"}],"mark":{"type":"area","fill":"#5cbf4a","fillOpacity":0.6,"stroke":"#4daf4a","strokeWidth":1},"encoding":{"x":{"field":"x","type":"quantitative"},"y":{"field":"y","type":"quantitative","stack":null}}},
{"data":{"name":"dd"},"transform":[{"filter":"datum.s == 'H'"}],"mark":{"type":"area","fill":"#8b2a1a","fillOpacity":0.55,"stroke":"#a52a2a","strokeWidth":1},"encoding":{"x":{"field":"x","type":"quantitative"},"y":{"field":"y","type":"quantitative","stack":null}}},
{"data":{"values":[{}]},"mark":{"type":"text","fontSize":11,"color":"black","align":"left","baseline":"middle"},"encoding":{"x":{"datum":-3.976,"type":"quantitative"},"y":{"datum":0.58,"type":"quantitative"},"text":{"value":"Wilcoxon rank sum p−value: 1.783e−57"}}},
{"data":{"values":[{}]},"mark":{"type":"text","fontSize":11,"fontWeight":"bold","color":"black","align":"left","baseline":"middle"},"encoding":{"x":{"datum":-3.976,"type":"quantitative"},"y":{"datum":0.5306,"type":"quantitative"},"text":{"value":"CIN status"}}},
{"data":{"values":[{}]},"mark":{"type":"rect","fill":"#5cbf4a","fillOpacity":0.6,"stroke":"#4daf4a","strokeWidth":1},"encoding":{"x":{"datum":-3.976,"type":"quantitative"},"x2":{"datum":-3.593},"y":{"datum":0.5039,"type":"quantitative"},"y2":{"datum":0.4675}}},
{"data":{"values":[{}]},"mark":{"type":"rect","fill":"#8b2a1a","fillOpacity":0.55,"stroke":"#a52a2a","strokeWidth":1},"encoding":{"x":{"datum":-3.976,"type":"quantitative"},"x2":{"datum":-3.593},"y":{"datum":0.4623,"type":"quantitative"},"y2":{"datum":0.4234}}},
{"data":{"values":[{}]},"mark":{"type":"text","fontSize":11,"color":"black","align":"left","baseline":"middle"},"encoding":{"x":{"datum":-3.545,"type":"quantitative"},"y":{"datum":0.4857,"type":"quantitative"},"text":{"value":"low CIN (n=73)"}}},
{"data":{"values":[{}]},"mark":{"type":"text","fontSize":11,"color":"black","align":"left","baseline":"middle"},"encoding":{"x":{"datum":-3.545,"type":"quantitative"},"y":{"datum":0.4429,"type":"quantitative"},"text":{"value":"high CIN (n=316)"}}},
{"data":{"values":[{}]},"mark":{"type":"text","fontSize":11,"color":"black","align":"left","baseline":"middle"},"encoding":{"x":{"datum":-3.234,"type":"quantitative"},"y":{"datum":-0.1161,"type":"quantitative"},"text":{"value":"log2 fold change of"}}},
{"data":{"values":[{}]},"mark":{"type":"text","fontSize":11,"fontStyle":"italic","color":"black","align":"left","baseline":"middle"},"encoding":{"x":{"datum":-0.935,"type":"quantitative"},"y":{"datum":-0.1161,"type":"quantitative"},"text":{"value":"CDKN1A"}}},
{"data":{"values":[{}]},"mark":{"type":"text","fontSize":11,"color":"black","align":"left","baseline":"middle"},"encoding":{"x":{"datum":0.2057,"type":"quantitative"},"y":{"datum":-0.1161,"type":"quantitative"},"text":{"value":"expression"}}},
{"data":{"values":[{}]},"mark":{"type":"text","fontSize":14,"color":"#1a1a1a","align":"center","baseline":"alphabetic"},"encoding":{"x":{"datum":-0.986,"type":"quantitative"},"y":{"datum":0.652,"type":"quantitative"},"text":{"value":"TCGA: colorectal adenocarcinoma"}}},
{"data":{"values":[{}]},"mark":{"type":"text","fontSize":20,"color":"black","align":"left","baseline":"top"},"encoding":{"x":{"datum":-5.651,"type":"quantitative"},"y":{"datum":0.7112,"type":"quantitative"},"text":{"value":"d"}}}
]
}
],
"spacing":62,
"bounds":"flush"
}
]
}
